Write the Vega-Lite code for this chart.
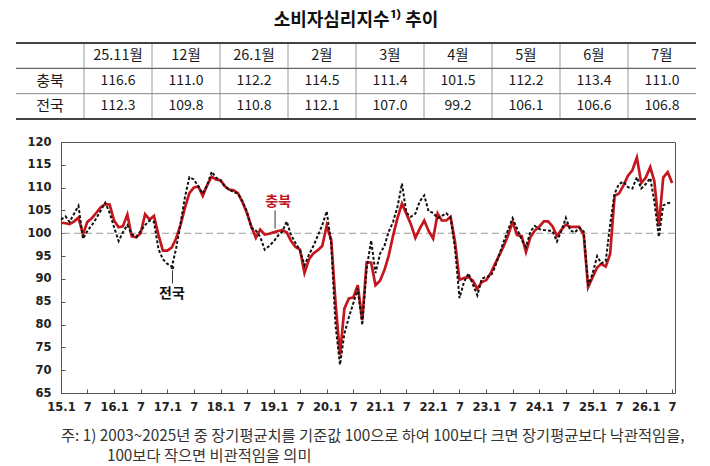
{
  "$schema": "https://vega.github.io/schema/vega-lite/v6.json",
  "background": "white",
  "padding": {"left": 15, "top": 11, "right": 5, "bottom": 0},
  "columns": 1,
  "spacing": 15,
  "config": {"font": "Noto Sans CJK KR", "view": {"stroke": null}, "axis": {"labelOverlap": false}},
  "datasets": {
    "series": [
      {"month": "2015-01-01", "충북": 102.3, "전국": 103.0},
      {"month": "2015-02-01", "충북": 102.2, "전국": 103.7},
      {"month": "2015-03-01", "충북": 102.0, "전국": 102.5},
      {"month": "2015-04-01", "충북": 102.6, "전국": 104.3},
      {"month": "2015-05-01", "충북": 103.4, "전국": 106.0},
      {"month": "2015-06-01", "충북": 99.8, "전국": 98.8},
      {"month": "2015-07-01", "충북": 102.5, "전국": 100.5},
      {"month": "2015-08-01", "충북": 103.3, "전국": 101.8},
      {"month": "2015-09-01", "충북": 104.5, "전국": 103.3},
      {"month": "2015-10-01", "충북": 105.7, "전국": 105.0},
      {"month": "2015-11-01", "충북": 106.4, "전국": 106.7},
      {"month": "2015-12-01", "충북": 106.3, "전국": 104.5},
      {"month": "2016-01-01", "충북": 102.8, "전국": 101.3},
      {"month": "2016-02-01", "충북": 101.3, "전국": 98.3},
      {"month": "2016-03-01", "충북": 101.5, "전국": 100.2},
      {"month": "2016-04-01", "충북": 104.1, "전국": 101.8},
      {"month": "2016-05-01", "충북": 99.3, "전국": 99.8},
      {"month": "2016-06-01", "충북": 99.1, "전국": 99.2},
      {"month": "2016-07-01", "충북": 100.0, "전국": 100.5},
      {"month": "2016-08-01", "충북": 104.2, "전국": 101.8},
      {"month": "2016-09-01", "충북": 103.0, "전국": 102.8},
      {"month": "2016-10-01", "충북": 103.8, "전국": 102.5},
      {"month": "2016-11-01", "충북": 99.6, "전국": 96.5},
      {"month": "2016-12-01", "충북": 96.2, "전국": 94.3},
      {"month": "2017-01-01", "충북": 96.2, "전국": 93.3},
      {"month": "2017-02-01", "충북": 96.9, "전국": 92.7},
      {"month": "2017-03-01", "충북": 98.8, "전국": 96.5},
      {"month": "2017-04-01", "충북": 101.8, "전국": 102.0},
      {"month": "2017-05-01", "충북": 105.5, "전국": 107.8},
      {"month": "2017-06-01", "충북": 108.8, "전국": 112.3},
      {"month": "2017-07-01", "충북": 110.0, "전국": 111.8},
      {"month": "2017-08-01", "충북": 110.3, "전국": 110.3},
      {"month": "2017-09-01", "충북": 108.2, "전국": 108.7},
      {"month": "2017-10-01", "충북": 110.5, "전국": 110.5},
      {"month": "2017-11-01", "충북": 112.4, "전국": 113.5},
      {"month": "2017-12-01", "충북": 111.8, "전국": 112.2},
      {"month": "2018-01-01", "충북": 111.6, "전국": 111.6},
      {"month": "2018-02-01", "충북": 110.3, "전국": 110.2},
      {"month": "2018-03-01", "충북": 109.6, "전국": 109.6},
      {"month": "2018-04-01", "충북": 109.4, "전국": 109.0},
      {"month": "2018-05-01", "충북": 108.8, "전국": 108.7},
      {"month": "2018-06-01", "충북": 106.8, "전국": 107.0},
      {"month": "2018-07-01", "충북": 104.5, "전국": 104.8},
      {"month": "2018-08-01", "충북": 101.5, "전국": 101.2},
      {"month": "2018-09-01", "충북": 99.0, "전국": 100.6},
      {"month": "2018-10-01", "충북": 100.8, "전국": 99.2},
      {"month": "2018-11-01", "충북": 99.7, "전국": 96.4},
      {"month": "2018-12-01", "충북": 99.9, "전국": 97.2},
      {"month": "2019-01-01", "충북": 100.2, "전국": 98.2},
      {"month": "2019-02-01", "충북": 100.5, "전국": 99.5},
      {"month": "2019-03-01", "충북": 100.7, "전국": 100.3},
      {"month": "2019-04-01", "충북": 100.2, "전국": 102.6},
      {"month": "2019-05-01", "충북": 98.3, "전국": 99.6},
      {"month": "2019-06-01", "충북": 97.0, "전국": 97.8},
      {"month": "2019-07-01", "충북": 96.4, "전국": 96.3},
      {"month": "2019-08-01", "충북": 91.3, "전국": 93.0},
      {"month": "2019-09-01", "충북": 94.3, "전국": 95.3},
      {"month": "2019-10-01", "충북": 95.6, "전국": 97.2},
      {"month": "2019-11-01", "충북": 96.3, "전국": 99.5},
      {"month": "2019-12-01", "충북": 97.2, "전국": 101.8},
      {"month": "2020-01-01", "충북": 101.7, "전국": 104.8},
      {"month": "2020-02-01", "충북": 98.5, "전국": 97.5},
      {"month": "2020-03-01", "충북": 85.0, "전국": 80.0},
      {"month": "2020-04-01", "충북": 73.3, "전국": 71.2},
      {"month": "2020-05-01", "충북": 83.5, "전국": 78.0},
      {"month": "2020-06-01", "충북": 85.7, "전국": 81.6},
      {"month": "2020-07-01", "충북": 85.9, "전국": 84.6},
      {"month": "2020-08-01", "충북": 88.6, "전국": 87.9},
      {"month": "2020-09-01", "충북": 81.0, "전국": 79.9},
      {"month": "2020-10-01", "충북": 93.6, "전국": 92.2},
      {"month": "2020-11-01", "충북": 93.6, "전국": 98.4},
      {"month": "2020-12-01", "충북": 88.6, "전국": 91.3},
      {"month": "2021-01-01", "충북": 89.6, "전국": 95.5},
      {"month": "2021-02-01", "충북": 92.0, "전국": 97.3},
      {"month": "2021-03-01", "충북": 95.0, "전국": 100.3},
      {"month": "2021-04-01", "충북": 99.5, "전국": 102.5},
      {"month": "2021-05-01", "충북": 103.3, "전국": 105.8},
      {"month": "2021-06-01", "충북": 106.5, "전국": 110.9},
      {"month": "2021-07-01", "충북": 104.3, "전국": 104.5},
      {"month": "2021-08-01", "충북": 102.0, "전국": 103.6},
      {"month": "2021-09-01", "충북": 99.0, "전국": 104.3},
      {"month": "2021-10-01", "충북": 101.0, "전국": 107.0},
      {"month": "2021-11-01", "충북": 102.8, "전국": 108.3},
      {"month": "2021-12-01", "충북": 100.5, "전국": 104.8},
      {"month": "2022-01-01", "충북": 98.8, "전국": 104.5},
      {"month": "2022-02-01", "충북": 104.3, "전국": 103.3},
      {"month": "2022-03-01", "충북": 102.8, "전국": 103.8},
      {"month": "2022-04-01", "충북": 102.8, "전국": 104.4},
      {"month": "2022-05-01", "충북": 103.6, "전국": 103.4},
      {"month": "2022-06-01", "충북": 98.0, "전국": 96.5},
      {"month": "2022-07-01", "충북": 89.8, "전국": 85.8},
      {"month": "2022-08-01", "충북": 90.2, "전국": 89.3},
      {"month": "2022-09-01", "충북": 90.4, "전국": 91.2},
      {"month": "2022-10-01", "충북": 89.6, "전국": 88.8},
      {"month": "2022-11-01", "충북": 87.8, "전국": 86.4},
      {"month": "2022-12-01", "충북": 89.3, "전국": 90.0},
      {"month": "2023-01-01", "충북": 89.7, "전국": 90.5},
      {"month": "2023-02-01", "충북": 91.3, "전국": 90.6},
      {"month": "2023-03-01", "충북": 93.2, "전국": 92.5},
      {"month": "2023-04-01", "충북": 95.2, "전국": 95.4},
      {"month": "2023-05-01", "충북": 97.2, "전국": 98.2},
      {"month": "2023-06-01", "충북": 99.6, "전국": 100.8},
      {"month": "2023-07-01", "충북": 102.5, "전국": 103.3},
      {"month": "2023-08-01", "충북": 99.6, "전국": 101.0},
      {"month": "2023-09-01", "충북": 99.4, "전국": 98.6},
      {"month": "2023-10-01", "충북": 95.9, "전국": 97.0},
      {"month": "2023-11-01", "충북": 99.2, "전국": 100.4},
      {"month": "2023-12-01", "충북": 100.6, "전국": 101.6},
      {"month": "2024-01-01", "충북": 101.5, "전국": 100.9},
      {"month": "2024-02-01", "충북": 102.6, "전국": 100.7},
      {"month": "2024-03-01", "충북": 102.6, "전국": 100.6},
      {"month": "2024-04-01", "충북": 101.5, "전국": 100.4},
      {"month": "2024-05-01", "충북": 99.4, "전국": 98.2},
      {"month": "2024-06-01", "충북": 100.8, "전국": 100.6},
      {"month": "2024-07-01", "충북": 101.9, "전국": 103.4},
      {"month": "2024-08-01", "충북": 101.4, "전국": 100.6},
      {"month": "2024-09-01", "충북": 101.4, "전국": 100.2},
      {"month": "2024-10-01", "충북": 101.4, "전국": 101.2},
      {"month": "2024-11-01", "충북": 99.6, "전국": 100.4},
      {"month": "2024-12-01", "충북": 88.2, "전국": 88.5},
      {"month": "2025-01-01", "충북": 90.4, "전국": 91.2},
      {"month": "2025-02-01", "충북": 92.5, "전국": 95.0},
      {"month": "2025-03-01", "충북": 93.3, "전국": 93.4},
      {"month": "2025-04-01", "충북": 92.7, "전국": 93.9},
      {"month": "2025-05-01", "충북": 95.4, "전국": 101.8},
      {"month": "2025-06-01", "충북": 108.2, "전국": 108.7},
      {"month": "2025-07-01", "충북": 108.7, "전국": 110.8},
      {"month": "2025-08-01", "충북": 110.5, "전국": 111.3},
      {"month": "2025-09-01", "충북": 112.6, "전국": 110.1},
      {"month": "2025-10-01", "충북": 113.8, "전국": 109.8},
      {"month": "2025-11-01", "충북": 116.6, "전국": 112.3},
      {"month": "2025-12-01", "충북": 111.0, "전국": 109.8},
      {"month": "2026-01-01", "충북": 112.2, "전국": 110.8},
      {"month": "2026-02-01", "충북": 114.5, "전국": 112.1},
      {"month": "2026-03-01", "충북": 111.4, "전국": 107.0},
      {"month": "2026-04-01", "충북": 101.5, "전국": 99.2},
      {"month": "2026-05-01", "충북": 112.2, "전국": 106.1},
      {"month": "2026-06-01", "충북": 113.4, "전국": 106.6},
      {"month": "2026-07-01", "충북": 111.0, "전국": 106.8}
    ]
  },
  "concat": [
    {
      "spacing": 12,
      "vconcat": [
        {
          "width": 590,
          "height": 18,
          "data": {"values": [{"heading": "소비자심리지수¹⁾ 추이"}]},
          "layer": [
            {
              "mark": {"type": "text", "fontSize": 18, "fontWeight": "bold", "color": "#111111"},
              "encoding": {"text": {"field": "heading"}}
            },
            {
              "mark": {"type": "rule", "color": "#111111", "strokeWidth": 1.2, "x": {"expr": "width / 2 - 90"}, "x2": {"expr": "width / 2 + 90"}, "y": {"expr": "height + 1"}},
              "encoding": {}
            }
          ]
        },
        {
          "width": 635,
          "height": 76,
          "data": {"name": "series"},
          "transform": [
            {"filter": "toDate(datum.month) >= toDate('2025-11-01')"},
            {"calculate": "(utcmonth(toDate(datum.month)) == 0 || utcFormat(toDate(datum.month), '%Y-%m') == '2025-11' ? utcFormat(toDate(datum.month), '%y.%-m') : utcFormat(toDate(datum.month), '%-m')) + '월'", "as": "col"},
            {"calculate": "(utcyear(toDate(datum.month)) - 2025) * 12 + utcmonth(toDate(datum.month)) - 9", "as": "colStart"},
            {"calculate": "datum.colStart + 0.5", "as": "colMid"},
            {"fold": ["충북", "전국"], "as": ["region", "value"]}
          ],
          "layer": [
            {
              "mark": {"type": "text", "fontSize": 14, "color": "#1a1a1a"},
              "encoding": {
                "x": {"field": "colMid", "type": "quantitative", "axis": null, "scale": {"domain": [0, 10], "range": [-45, 635], "nice": false, "zero": false}},
                "y": {"field": "region", "type": "ordinal", "axis": null, "scale": {"domain": ["월", "충북", "전국"], "paddingInner": 0, "paddingOuter": 0}},
                "text": {"field": "value", "type": "quantitative", "format": ".1f"}
              }
            },
            {
              "transform": [{"filter": "datum.region == '충북'"}],
              "mark": {"type": "text", "fontSize": 14.5, "color": "#1a1a1a"},
              "encoding": {
                "x": {"field": "colMid", "type": "quantitative"},
                "y": {"datum": "월", "type": "ordinal"},
                "text": {"field": "col"}
              }
            },
            {
              "transform": [{"filter": "datum.colStart == 1"}],
              "mark": {"type": "text", "fontSize": 15, "color": "#1a1a1a"},
              "encoding": {
                "x": {"datum": 0.5, "type": "quantitative"},
                "y": {"field": "region", "type": "ordinal"},
                "text": {"field": "region"}
              }
            },
            {
              "transform": [{"filter": "datum.region == '충북'"}],
              "mark": {"type": "rule", "color": "#9a9a9a", "strokeWidth": 1},
              "encoding": {"x": {"field": "colStart", "type": "quantitative"}}
            },
            {
              "transform": [{"filter": "datum.region == '충북' && datum.colStart == 1"}],
              "mark": {"type": "rule", "color": "#444444", "strokeWidth": 2},
              "encoding": {
                "x": {"datum": 0, "type": "quantitative"},
                "x2": {"datum": 10},
                "y": {"datum": "월", "type": "ordinal", "bandPosition": 0}
              }
            },
            {
              "transform": [{"filter": "datum.region == '충북' && datum.colStart == 1"}],
              "mark": {"type": "rule", "color": "#666666", "strokeWidth": 1.3},
              "encoding": {
                "x": {"datum": 0, "type": "quantitative"},
                "x2": {"datum": 10},
                "y": {"datum": "충북", "type": "ordinal", "bandPosition": 0}
              }
            },
            {
              "transform": [{"filter": "datum.region == '충북' && datum.colStart == 1"}],
              "mark": {"type": "rule", "color": "#888888", "strokeWidth": 1},
              "encoding": {
                "x": {"datum": 0, "type": "quantitative"},
                "x2": {"datum": 10},
                "y": {"datum": "전국", "type": "ordinal", "bandPosition": 0}
              }
            },
            {
              "transform": [{"filter": "datum.region == '충북' && datum.colStart == 1"}],
              "mark": {"type": "rule", "color": "#444444", "strokeWidth": 2},
              "encoding": {
                "x": {"datum": 0, "type": "quantitative"},
                "x2": {"datum": 10},
                "y": {"datum": "전국", "type": "ordinal", "bandPosition": 1}
              }
            }
          ]
        }
      ]
    },
    {
      "width": 614,
      "height": 251,
      "view": {"stroke": "#555555", "strokeWidth": 1},
      "data": {"name": "series"},
      "title": {
        "text": ["주: 1) 2003~2025년 중 장기평균치를 기준값 100으로 하여 100보다 크면 장기평균보다 낙관적임을,", "​　　　100보다 작으면 비관적임을 의미"],
        "orient": "bottom",
        "anchor": "start",
        "frame": "group",
        "font": "Noto Sans CJK KR",
        "fontSize": 15.3,
        "fontWeight": "normal",
        "color": "#333333",
        "offset": 16,
        "lineHeight": 20
      },
      "layer": [
        {
          "data": {"values": [{"level": 100}]},
          "mark": {"type": "rule", "color": "#9a9a9a", "strokeWidth": 1, "strokeDash": [7, 4]},
          "encoding": {
            "y": {"field": "level", "type": "quantitative"}
          }
        },
        {
          "mark": {"type": "line", "color": "#c4161c", "strokeWidth": 2.7},
          "encoding": {
            "x": {
              "field": "month",
              "type": "temporal",
              "scale": {"type": "utc", "nice": false, "domain": [{"year": 2015, "month": 1, "date": 1, "utc": true}, {"year": 2026, "month": 7, "date": 21, "utc": true}]},
              "axis": {
                "title": null,
                "domain": false,
                "grid": false,
                "tickCount": {"interval": "month", "step": 6},
                "tickSize": -4,
                "tickColor": "#555555",
                "labelExpr": "utcFormat(datum.value, '%m') == '01' ? utcFormat(datum.value, '%y') + '.1' : '7'",
                "labelFont": "DejaVu Sans",
                "labelFontWeight": "bold",
                "labelFontSize": 11.5,
                "labelColor": "#222222",
                "labelPadding": 12,
                "labelOverlap": false,
                "labelFlush": false,
                "labelAngle": 0
              }
            },
            "y": {
              "field": "충북",
              "type": "quantitative",
              "scale": {"domain": [65, 120], "nice": false, "zero": false},
              "axis": {
                "title": null,
                "domain": false,
                "grid": false,
                "tickCount": 11,
                "tickSize": -4,
                "tickColor": "#555555",
                "labelFont": "DejaVu Sans",
                "labelFontWeight": "bold",
                "labelFontSize": 11.5,
                "labelColor": "#222222",
                "labelPadding": 14,
                "labelOverlap": false,
                "labelBound": false,
                "labelFlush": false,
                "minExtent": 45
              }
            }
          }
        },
        {
          "mark": {"type": "line", "color": "#111111", "strokeWidth": 2, "strokeDash": [3, 2]},
          "encoding": {
            "x": {"field": "month", "type": "temporal"},
            "y": {"field": "전국", "type": "quantitative"}
          }
        },
        {
          "data": {"values": [{}]},
          "mark": {"type": "rule", "color": "#333333", "strokeWidth": 1},
          "encoding": {
            "x": {"datum": {"year": 2019, "month": 1, "date": 11, "utc": true}, "type": "temporal"},
            "y": {"datum": 105.0, "type": "quantitative"},
            "y2": {"datum": 101.0}
          }
        },
        {
          "data": {"values": [{}]},
          "mark": {"type": "text", "text": "충북", "fontSize": 14, "fontWeight": "bold", "color": "#c4161c"},
          "encoding": {
            "x": {"datum": {"year": 2019, "month": 2, "date": 1, "utc": true}, "type": "temporal"},
            "y": {"datum": 106.9, "type": "quantitative"}
          }
        },
        {
          "data": {"values": [{}]},
          "mark": {"type": "rule", "color": "#333333", "strokeWidth": 1},
          "encoding": {
            "x": {"datum": {"year": 2017, "month": 2, "date": 5, "utc": true}, "type": "temporal"},
            "y": {"datum": 91.9, "type": "quantitative"},
            "y2": {"datum": 89.0}
          }
        },
        {
          "data": {"values": [{}]},
          "mark": {"type": "point", "filled": true, "size": 14, "color": "#222222", "opacity": 1},
          "encoding": {
            "x": {"datum": {"year": 2017, "month": 2, "date": 5, "utc": true}, "type": "temporal"},
            "y": {"datum": 92.5, "type": "quantitative"}
          }
        },
        {
          "data": {"values": [{}]},
          "mark": {"type": "text", "text": "전국", "fontSize": 14, "fontWeight": "bold", "color": "#111111"},
          "encoding": {
            "x": {"datum": {"year": 2017, "month": 2, "date": 1, "utc": true}, "type": "temporal"},
            "y": {"datum": 86.8, "type": "quantitative"}
          }
        }
      ]
    }
  ]
}
